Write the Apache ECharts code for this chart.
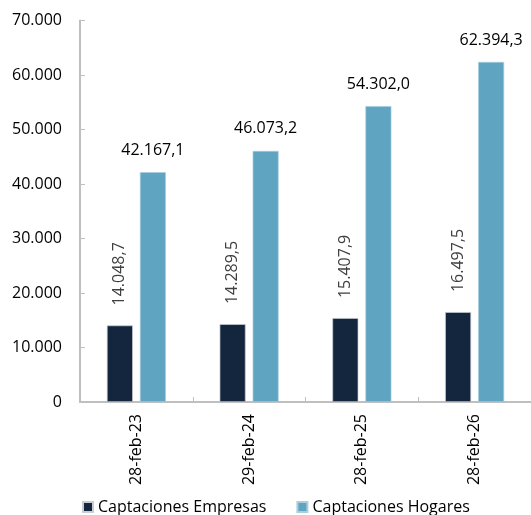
<!DOCTYPE html>
<html><head><meta charset="utf-8">
<script src="https://cdn.jsdelivr.net/npm/echarts@6/dist/echarts.min.js"></script>
<style>html,body{margin:0;padding:0;background:#fff}#c{width:531px;height:515px}</style>
</head><body><div id="c"></div>
<script>
var categories = ['28-feb-23','29-feb-24','28-feb-25','28-feb-26'];
var empresas = [14048.7, 14289.5, 15407.9, 16497.5];
var hogares = [42167.1, 46073.2, 54302.0, 62394.3];
var seriesNames = ['Captaciones Empresas','Captaciones Hogares'];
var yTicks = [0,10000,20000,30000,40000,50000,60000,70000];

function fmt(v, dec){
  var s = v.toFixed(dec);
  var parts = s.split('.');
  var ip = parts[0].replace(/\B(?=(\d{3})+(?!\d))/g,'.');
  return dec ? ip + ',' + parts[1] : ip;
}
var FONT = 'Open Sans';
var chart = echarts.init(document.getElementById('c'), null, {renderer:'canvas'});
chart.setOption({
  animation:false,
  textStyle:{fontFamily:FONT},
  grid:{left:80, right:-6, top:20.5, bottom:113, containLabel:false},
  legend:{
    top:499, left:82, itemWidth:10, itemHeight:10, itemGap:30, icon:'rect', padding:0,
    textStyle:{fontFamily:FONT, fontSize:16, color:'#000'},
    data:seriesNames
  },
  xAxis:{
    type:'category', data:categories,
    axisLine:{lineStyle:{color:'#BFBFBF', width:2}},
    axisTick:{show:true, inside:true, length:5, lineStyle:{color:'#BFBFBF'}},
    axisLabel:{rotate:90, fontSize:16, color:'#000', margin:12, fontFamily:FONT}
  },
  yAxis:{
    type:'value', min:yTicks[0], max:yTicks[yTicks.length-1], interval:10000,
    axisLine:{show:true, lineStyle:{color:'#BFBFBF', width:2}},
    axisTick:{show:true, inside:true, length:5, lineStyle:{color:'#BFBFBF'}},
    splitLine:{show:false},
    axisLabel:{fontSize:16, color:'#000', margin:18, fontFamily:FONT, formatter:function(v){return fmt(v,0);}}
  },
  series:[
    {name:seriesNames[0], type:'bar', data:empresas, barWidth:26, barGap:'27%',
     itemStyle:{color:'#13263D', borderColor:'#C8CDD3', borderWidth:0.7},
     label:{show:true, position:'top', rotate:90, distance:18, align:'left', verticalAlign:'middle', offset:[2,0],
       color:'#404040', fontSize:16, fontFamily:FONT, formatter:function(p){return fmt(p.value,1);}}},
    {name:seriesNames[1], type:'bar', data:hogares, barWidth:26,
     itemStyle:{color:'#5FA4C0', borderColor:'#A9CFDF', borderWidth:0.7},
     label:{show:true, position:'top', distance:14,
       color:'#000', fontSize:16, fontFamily:FONT, formatter:function(p){return fmt(p.value,1);}}}
  ]
});
</script></body></html>
